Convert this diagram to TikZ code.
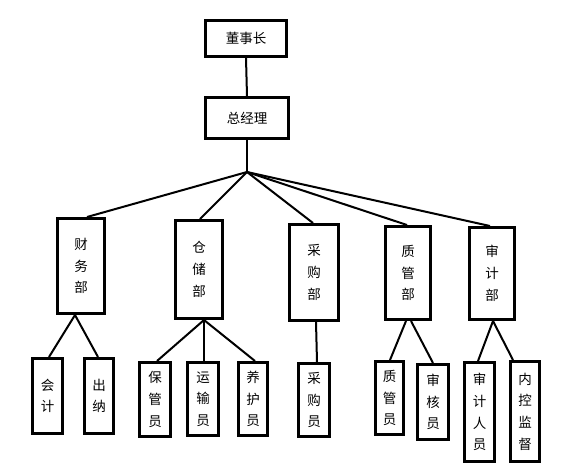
\documentclass[tikz,border=0pt]{standalone}
\usepackage{fontspec}
\newfontfamily\cjk{Noto Sans CJK SC}
\begin{document}
\begin{tikzpicture}[x=1pt,y=-1pt,
  box/.style={draw,line width=2.6pt,inner sep=0pt,align=center,font=\cjk\fontsize{13.5}{21.7}\selectfont},
  conn/.style={line width=2pt}]
\useasboundingbox (0,0) rectangle (568,475);
\newcommand\bx[6]{\node[box,minimum width=#4pt-2.6pt,minimum height=#5pt-2.6pt] (#1) at (#2,#3) {#6};}
\bx{dsz}{246}{38.5}{84}{39}{董事长}
\bx{zjl}{247}{118}{86}{44}{总经理}
\bx{cw}{81}{266}{50}{98}{财\\务\\部}
\bx{cc}{199}{269.5}{50}{101}{仓\\储\\部}
\bx{cg}{314}{272.5}{52}{99}{采\\购\\部}
\bx{zg}{408}{273}{48}{96}{质\\管\\部}
\bx{sj}{492}{273.5}{48}{95}{审\\计\\部}
\bx{kj}{47.5}{396}{33}{78}{会\\计}
\bx{cn}{99}{396}{32}{78}{出\\纳}
\bx{bg}{155}{399.5}{34}{77}{保\\管\\员}
\bx{ys}{203}{399}{34}{76}{运\\输\\员}
\bx{yh}{253}{399}{32}{76}{养\\护\\员}
\bx{cgy}{314}{400}{34}{76}{采\\购\\员}
\bx{zgy}{389.5}{398}{31}{76}{质\\管\\员}
\bx{sh}{433}{402}{34}{78}{审\\核\\员}
\bx{sjry}{479.5}{412}{33}{102}{审\\计\\人\\员}
\bx{nk}{525}{411.5}{32}{103}{内\\控\\监\\督}
\coordinate (hub) at (247,172);
\draw[conn] (dsz.south) -- (zjl.north);
\draw[conn] (zjl.south) -- (hub);
\draw[conn] (hub) -- ([xshift=6pt]cw.north);
\draw[conn] (hub) -- ([xshift=1pt]cc.north);
\draw[conn] (hub) -- ([xshift=-1pt]cg.north);
\draw[conn] (hub) -- ([xshift=-1pt]zg.north);
\draw[conn] (hub) -- ([xshift=-2pt]sj.north);
\draw[conn] ([xshift=-6pt]cw.south) -- ([xshift=1.5pt]kj.north);
\draw[conn] ([xshift=-6pt]cw.south) -- ([xshift=-1pt]cn.north);
\draw[conn] ([xshift=5pt]cc.south) -- ([xshift=2pt]bg.north);
\draw[conn] ([xshift=5pt]cc.south) -- ([xshift=1pt]ys.north);
\draw[conn] ([xshift=5pt]cc.south) -- ([xshift=2pt]yh.north);
\draw[conn] ([xshift=2pt]cg.south) -- ([xshift=3pt]cgy.north);
\draw[conn] ([xshift=-2pt]zg.south) -- ([xshift=0.5pt]zgy.north);
\draw[conn] ([xshift=3pt]zg.south) -- (sh.north);
\draw[conn] ([xshift=1pt]sj.south) -- ([xshift=-1.5pt]sjry.north);
\draw[conn] ([xshift=1pt]sj.south) -- ([xshift=-12pt]nk.north);
\end{tikzpicture}
\end{document}
